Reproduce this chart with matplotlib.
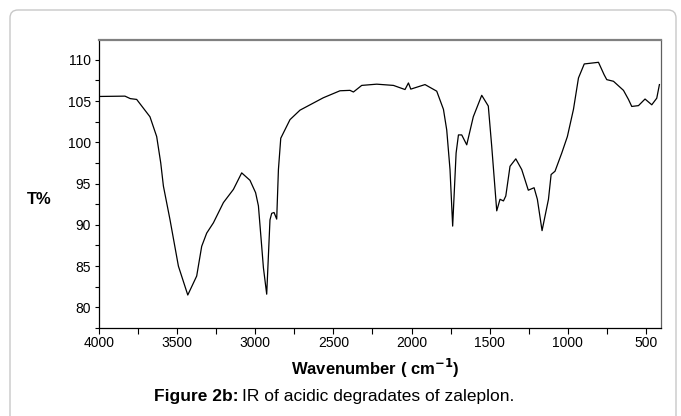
import numpy as np
import matplotlib
matplotlib.use("Agg")
from matplotlib import pyplot as plt
from matplotlib.patches import FancyBboxPatch
from matplotlib.transforms import IdentityTransform

# IR spectrum (wavenumber in cm-1, transmittance in %)
wavenumber = [4000, 3834, 3800, 3759, 3674, 3631, 3605, 3588, 3546, 3492,
              3432, 3375, 3343, 3311, 3268, 3204, 3140, 3087, 3034, 2998,
              2980, 2959, 2948, 2927, 2906, 2895, 2880, 2863, 2852, 2837,
              2778, 2714, 2565, 2458, 2394, 2372, 2319, 2223, 2116, 2042,
              2020, 2005, 1914, 1839, 1796, 1775, 1754, 1737, 1715, 1700,
              1679, 1647, 1605, 1551, 1509, 1487, 1455, 1434, 1412, 1397,
              1370, 1333, 1295, 1253, 1216, 1195, 1165, 1124, 1107, 1082,
              1039, 1003, 964, 932, 895, 804, 768, 751, 708, 644,
              612, 591, 548, 506, 463, 431, 414]
transmittance = [105.56, 105.6, 105.3, 105.2, 103.1, 100.7, 97.5, 94.7, 90.65, 85.0,
                 81.5, 83.8, 87.4, 89.0, 90.25, 92.7, 94.3, 96.3, 95.4, 93.9,
                 92.3, 87.4, 84.8, 81.6, 90.6, 91.4, 91.5, 90.7, 96.7, 100.5,
                 102.75, 103.9, 105.4, 106.25, 106.3, 106.1, 106.9, 107.05, 106.9, 106.4,
                 107.2, 106.45, 107.0, 106.2, 104.0, 101.5, 96.7, 89.85, 98.7, 100.9,
                 100.9, 99.7, 103.1, 105.7, 104.4, 99.5, 91.7, 93.1, 92.9, 93.5,
                 97.1, 98.0, 96.7, 94.2, 94.5, 93.1, 89.3, 93.1, 96.1, 96.5,
                 98.7, 100.7, 104.0, 107.8, 109.5, 109.7, 108.2, 107.6, 107.4, 106.3,
                 105.2, 104.35, 104.45, 105.25, 104.55, 105.35, 107.0]

x_ticks = [4000, 3500, 3000, 2500, 2000, 1500, 1000, 500]
y_ticks = [80, 85, 90, 95, 100, 105, 110]

plt.rcParams['font.family'] = ['Liberation Sans', 'DejaVu Sans']

fig = plt.figure(figsize=(6.81, 4.16), dpi=100)
ax = fig.add_axes([0.1454, 0.2115, 0.8252, 0.6923])

ax.plot(wavenumber, transmittance, color="black", linewidth=0.9)

ax.set_xlim(4000, 404)
ax.set_ylim(77.6, 112.4)
ax.set_xticks(x_ticks)
ax.set_xticks(np.arange(3750, 400, -500), minor=True)
ax.set_yticks(y_ticks)
ax.set_yticks(np.arange(77.5, 112.5, 5), minor=True)
ax.tick_params(which="both", direction="out", length=3, width=0.8, labelsize=10)
ax.tick_params(axis="x", which="both", length=4, pad=2)
ax.tick_params(axis="y", which="both", pad=3)

for side in ["left", "bottom"]:
    ax.spines[side].set_color("black")
    ax.spines[side].set_linewidth(0.9)
ax.spines["top"].set_color("#808080")
ax.spines["top"].set_linewidth(1.6)
ax.spines["right"].set_color("#606060")
ax.spines["right"].set_linewidth(0.9)

fig.text(0.058, 0.52, "T%", fontsize=12, fontweight="bold", ha="center",
         va="center")
fig.text(0.551, 0.115, "Wavenumber ( cm$^{\\mathbf{-1}}$)", fontsize=12,
         fontweight="bold", ha="center", va="center")
t1 = fig.text(0.226, 0.046, "Figure 2b:", fontsize=12.5, fontweight="bold",
              ha="left", va="center")
fig.canvas.draw()
bb = t1.get_window_extent()
fig.text(bb.x1 / fig.bbox.width + 0.005, 0.046,
         "IR of acidic degradates of zaleplon.", fontsize=12.5, ha="left",
         va="center")

border = FancyBboxPatch((10, -20), 666, 426, boxstyle="round,pad=0,rounding_size=8",
                        transform=IdentityTransform(), fill=False,
                        edgecolor="#c8c8c8", linewidth=1.0)
fig.patches.append(border)

fig.savefig("out.png", dpi=100)
